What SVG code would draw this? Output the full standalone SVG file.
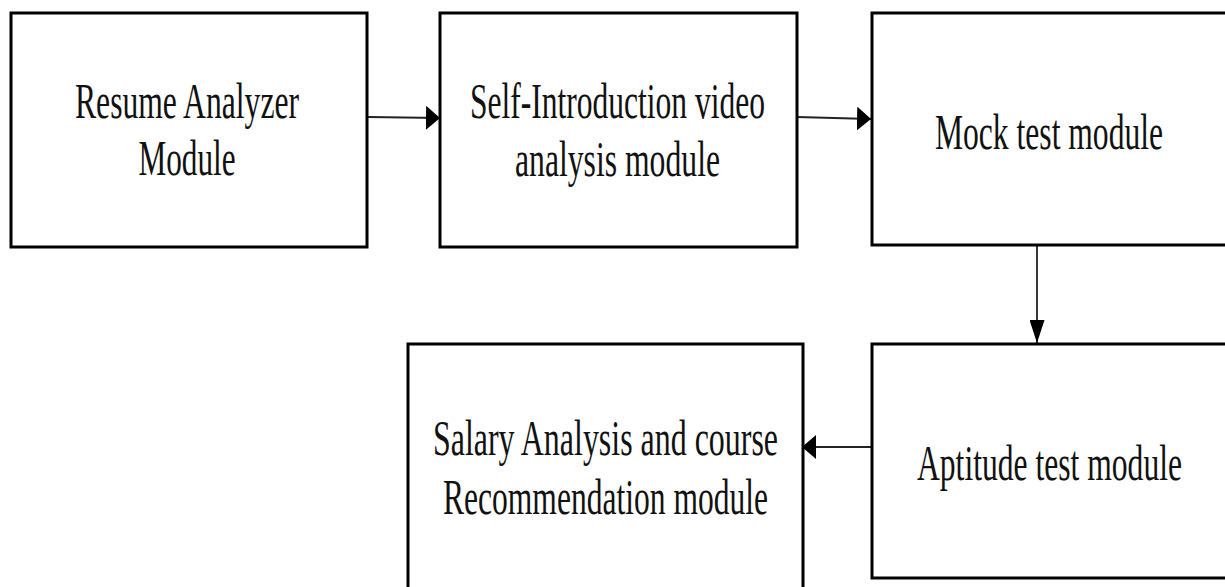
<svg xmlns="http://www.w3.org/2000/svg" width="1225" height="587" viewBox="0 0 1225 587">
  <style>
    .box { fill: #ffffff; stroke: #000000; stroke-width: 3; }
    .lbl { font-family: "Liberation Serif", "Times New Roman", serif; font-size: 50px; fill: #111111; text-anchor: middle; }
    .conn { stroke: #222222; stroke-width: 1.8; fill: none; }
  </style>
  <defs>
    <marker id="ah" viewBox="0 0 14 24" refX="14" refY="12" markerWidth="14" markerHeight="24" markerUnits="userSpaceOnUse" orient="auto">
      <polygon points="0,0 14,12 0,24" fill="#000000"/>
    </marker>
    <marker id="av" viewBox="0 0 23 15" refX="23" refY="7.5" markerWidth="23" markerHeight="15" markerUnits="userSpaceOnUse" orient="auto">
      <polygon points="0,0 23,7.5 0,15" fill="#000000"/>
    </marker>
  </defs>
  <rect width="1225" height="587" fill="#ffffff"/>

  <g id="connectors">
    <line class="conn" x1="368" y1="117" x2="440" y2="118" marker-end="url(#ah)"/>
    <line class="conn" x1="797" y1="117" x2="871" y2="119" marker-end="url(#ah)"/>
    <line class="conn" x1="1037" y1="245" x2="1037" y2="343" marker-end="url(#av)"/>
    <line class="conn" x1="872" y1="447" x2="802" y2="447" marker-end="url(#ah)"/>
  </g>

  <g id="resume">
    <rect class="box" x="11" y="13" width="356" height="234"/>
    <text class="lbl" x="187" y="118" textLength="224" lengthAdjust="spacingAndGlyphs">Resume Analyzer</text>
    <text class="lbl" x="187" y="175" textLength="97" lengthAdjust="spacingAndGlyphs">Module</text>
  </g>

  <g id="selfintro">
    <rect class="box" x="440" y="13" width="357" height="234"/>
    <text class="lbl" x="617.5" y="118" textLength="295" lengthAdjust="spacingAndGlyphs">Self-Introduction video</text>
    <text class="lbl" x="617.5" y="176" textLength="205" lengthAdjust="spacingAndGlyphs">analysis module</text>
  </g>

  <g id="mock">
    <rect class="box" x="872" y="13" width="356" height="232"/>
    <text class="lbl" x="1049" y="149" textLength="228" lengthAdjust="spacingAndGlyphs">Mock test module</text>
  </g>

  <g id="aptitude">
    <rect class="box" x="872" y="344" width="356" height="234"/>
    <text class="lbl" x="1049.5" y="480" textLength="265" lengthAdjust="spacingAndGlyphs">Aptitude test module</text>
  </g>

  <g id="salary">
    <rect class="box" x="408" y="344" width="395" height="260"/>
    <text class="lbl" x="605.5" y="455" textLength="345" lengthAdjust="spacingAndGlyphs">Salary Analysis and course</text>
    <text class="lbl" x="605.5" y="514" textLength="325" lengthAdjust="spacingAndGlyphs">Recommendation module</text>
  </g>
</svg>
